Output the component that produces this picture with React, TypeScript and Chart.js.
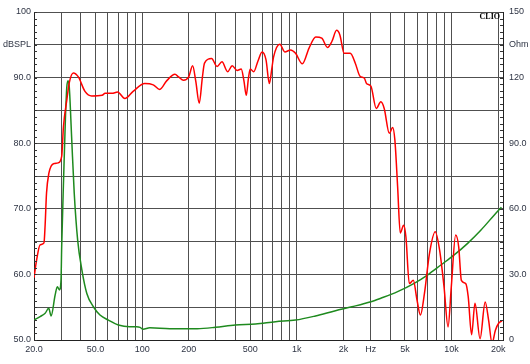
import React, { useEffect, useRef } from "react";
import { Chart, registerables } from "chart.js";

Chart.register(...registerables);

// SPL response (red), frequency in Hz / level in dBSPL
const splFreq = [
  20, 20.8, 21.9, 23.2, 23.6, 24.1, 25, 25.8, 27, 28.6, 30.2, 31, 32.6, 33.8, 35.9, 38.7, 42.7, 47.2,
  55.1, 57.6, 63.8, 69.4, 77.3, 87.4, 104, 118, 130, 144, 163, 172, 185, 200, 212, 222, 234, 245,
  253, 281, 305, 328, 357, 382, 411, 437, 455, 471, 487, 500, 526, 560, 596, 632, 664, 690, 708,
  776, 836, 910, 981, 1085, 1199, 1325, 1449, 1578, 1684, 1806, 1897, 2022, 2214, 2386, 2560,
  2733, 2820, 3010, 3260, 3490, 3670, 3960, 4160, 4300, 4480, 4660, 4900, 5070, 5330, 5660, 5980,
  6290, 6680, 7200, 7840, 8370, 8940, 9490, 9960, 10630, 11120, 11570, 12350, 12810, 13470, 14170,
  15280, 16490, 17360, 18270, 19200, 20200, 21200,
];
const splValues = [
  59.5, 62.2, 64.5, 64.8, 67.5, 72.4, 75.5, 76.5, 76.9, 77.0, 78.0, 82.5, 86.6, 89.2, 90.7, 90.1, 87.9, 87.2,
  87.3, 87.6, 87.6, 87.8, 86.8, 87.9, 89.1, 88.9, 88.2, 89.5, 90.5, 90.1, 89.6, 90.1, 91.8, 89.5, 86.1, 90.0,
  92.2, 92.9, 91.7, 92.4, 90.9, 91.8, 91.1, 91.3, 89.5, 87.3, 90.0, 91.3, 90.9, 92.5, 93.9, 92.7, 89.1, 91.5, 93.2,
  95.1, 93.9, 94.2, 93.7, 92.1, 94.5, 96.2, 96.0, 94.6, 95.5, 97.2, 96.5, 93.7, 93.7, 92.2, 90.2,
  89.9, 89.1, 88.7, 85.3, 86.3, 85.3, 81.5, 82.4, 80.5, 73.4, 66.3, 67.5, 65.7, 58.6, 59.1, 56.1,
  53.8, 57.1, 63.2, 66.5, 63.7, 58.1, 52.0, 58.1, 66.0, 64.2, 59.1, 58.6, 56.6, 50.8, 55.6,
  50.2, 55.8, 53.0, 49.5, 51.5, 52.6, 52.9,
];

// Impedance (green), frequency in Hz / Ohm
const impFreq = [
  20, 21.9, 23.6, 24.9, 25.8, 27.4, 28.3, 29.2, 29.9, 30.2, 31.1, 31.9, 32.6, 33.2, 33.8, 35, 36.4,
  38.3, 40.8, 43.9, 48.4, 53.4, 60.6, 70.2, 83.2, 92, 97, 101.3, 112, 151, 227, 297, 400, 541, 728,
  980, 1320, 1777, 2270, 3010, 3490, 4480, 5730, 6980, 8530, 10400, 12700, 15500, 18900, 21000,
];
const impValues = [
  9.1, 10.7, 12.2, 14.5, 11.0, 20.6, 24.4, 22.9, 27.4, 42.7, 74.7, 100.6, 115.8, 118.6, 115.8, 93, 67.1,
  45.7, 32, 21.3, 15.2, 11.4, 9.1, 6.9, 6.1, 6.1, 5.8, 4.9, 5.6, 5.2, 5.2, 5.8, 6.9, 7.3, 8.4,
  9.1, 11.0, 13.4, 15.2, 17.5, 19.1, 22.1, 25.9, 29.7, 34.3, 38.9, 44.2, 50.3, 57.2, 60.7,
];

// Axis ticks
const xTickValues = [
  20, 30, 40, 50, 60, 70, 80, 90, 100, 200, 300, 400, 500, 600, 700, 800, 900, 1000, 2000, 3000,
  4000, 5000, 6000, 7000, 8000, 9000, 10000, 20000,
];
const xTickLabels = [
  "20.0", "", "", "50.0", "", "", "", "", "100", "200", "", "", "500", "", "", "", "", "1k", "2k", "Hz",
  "", "5k", "", "", "", "", "10k", "20k",
];
const splTickValues = [50, 55, 60, 65, 70, 75, 80, 85, 90, 95, 100];
const splTickLabels = ["50.0", "", "60.0", "", "70.0", "", "80.0", "", "90.0", "dBSPL", "100"];
const ohmTickValues = [0, 15, 30, 45, 60, 75, 90, 105, 120, 135, 150];
const ohmTickLabels = ["0", "", "30.0", "", "60.0", "", "90.0", "", "120", "Ohm", "150"];

const tickFont = { family: "'Liberation Sans', Arial, sans-serif", size: 9 };
const tickColor = "#2e3444";
const gridColor = "#505050";

const decorPlugin = {
  id: "decor",
  afterDraw(chart: any) {
    const { ctx, chartArea, scales } = chart;
    const { left, right, top } = chartArea;
    ctx.save();
    ctx.strokeStyle = "#333";
    ctx.lineWidth = 1;
    for (let v = 50; v <= 100; v += 1) {
      const y = Math.round(scales.y.getPixelForValue(v)) + 0.5;
      ctx.beginPath();
      ctx.moveTo(left, y);
      ctx.lineTo(left + 3, y);
      ctx.stroke();
    }
    for (let v = 0; v <= 150; v += 3) {
      const y = Math.round(scales.y1.getPixelForValue(v)) + 0.5;
      ctx.beginPath();
      ctx.moveTo(right - 3, y);
      ctx.lineTo(right, y);
      ctx.stroke();
    }
    ctx.font = "bold 8px 'Liberation Serif', 'Times New Roman', serif";
    ctx.textAlign = "right";
    ctx.textBaseline = "top";
    ctx.fillStyle = "#000";
    ctx.fillText("CLIO", right - 3, top + 0.5);
    ctx.restore();
  },
};

export default function App() {
  const ref = useRef<HTMLCanvasElement | null>(null);
  useEffect(() => {
    if (!ref.current) return;
    const chart = new Chart(ref.current, {
      type: "line",
      data: {
        datasets: [
          {
            label: "SPL",
            data: splFreq.map((f, i) => ({ x: f, y: splValues[i] })),
            borderColor: "#ff0000",
            borderWidth: 1.5,
            pointRadius: 0,
            cubicInterpolationMode: "monotone",
            yAxisID: "y",
          },
          {
            label: "Impedance",
            data: impFreq.map((f, i) => ({ x: f, y: impValues[i] })),
            borderColor: "#1e8a1e",
            borderWidth: 1.5,
            pointRadius: 0,
            cubicInterpolationMode: "monotone",
            yAxisID: "y1",
          },
        ],
      },
      options: {
        responsive: false,
        animation: false,
        layout: { padding: { top: 12, left: 0, right: 0, bottom: 0 } },
        plugins: { legend: { display: false }, tooltip: { enabled: false } },
        scales: {
          x: {
            type: "logarithmic",
            min: 20,
            max: 21500,
            afterBuildTicks: (scale: any) => {
              scale.ticks = xTickValues.map((v) => ({ value: v }));
            },
            afterFit: (scale: any) => {
              scale.height = 24;
            },
            ticks: {
              autoSkip: false,
              maxRotation: 0,
              padding: 4,
              font: tickFont,
              color: tickColor,
              callback: (value: any) => {
                const i = xTickValues.indexOf(Number(value));
                return i >= 0 ? xTickLabels[i] : "";
              },
            },
            grid: { color: gridColor, lineWidth: 1, drawTicks: false },
            border: { display: true, color: "#222", width: 1 },
          },
          y: {
            type: "linear",
            position: "left",
            min: 50,
            max: 100,
            afterBuildTicks: (scale: any) => {
              scale.ticks = splTickValues.map((v) => ({ value: v }));
            },
            afterFit: (scale: any) => {
              scale.width = 34;
            },
            ticks: {
              autoSkip: false,
              padding: 3,
              font: tickFont,
              color: tickColor,
              callback: (value: any) => {
                const i = splTickValues.indexOf(Number(value));
                return i >= 0 ? splTickLabels[i] : "";
              },
            },
            grid: { color: gridColor, lineWidth: 1, drawTicks: false },
            border: { display: true, color: "#222", width: 1 },
          },
          y1: {
            type: "linear",
            position: "right",
            min: 0,
            max: 150,
            afterBuildTicks: (scale: any) => {
              scale.ticks = ohmTickValues.map((v) => ({ value: v }));
            },
            afterFit: (scale: any) => {
              scale.width = 27;
            },
            ticks: {
              autoSkip: false,
              padding: 6,
              font: tickFont,
              color: tickColor,
              callback: (value: any) => {
                const i = ohmTickValues.indexOf(Number(value));
                return i >= 0 ? ohmTickLabels[i] : "";
              },
            },
            grid: { drawOnChartArea: false, drawTicks: false },
            border: { display: true, color: "#222", width: 1 },
          },
        },
      },
      plugins: [decorPlugin],
    } as any);
    return () => chart.destroy();
  }, []);

  return (
    <div style={{ position: "absolute", left: 0, top: 0, width: 530, height: 364, background: "#fff" }}>
      <canvas ref={ref} width={530} height={364} style={{ display: "block" }} />
    </div>
  );
}
